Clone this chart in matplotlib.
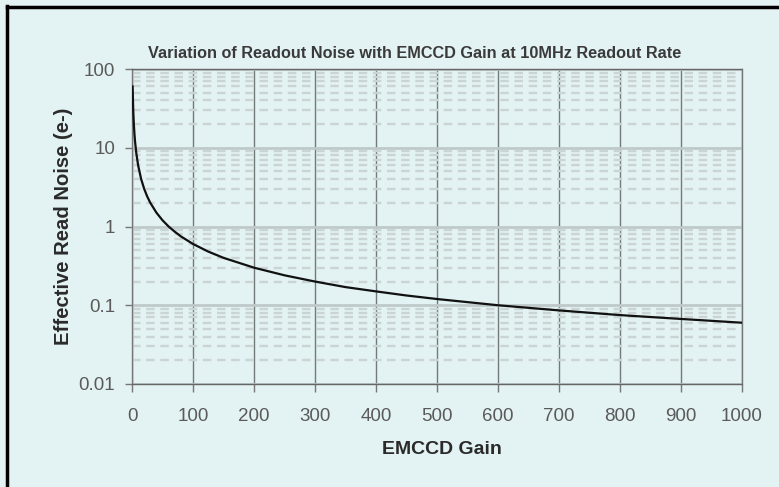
import matplotlib
matplotlib.use("Agg")
import matplotlib.pyplot as plt
from matplotlib.ticker import FixedLocator, NullFormatter

plt.rcParams['font.family'] = ['Liberation Sans', 'DejaVu Sans']

# Values
gain = [1, 2, 3, 4, 5, 7, 10, 15, 20, 25, 30, 40, 50, 60, 70, 80, 100, 125, 150,
        200, 250, 300, 350, 400, 450, 500, 600, 700, 800, 900, 1000]
noise = [60, 30, 20, 15, 12, 8.6, 6.0, 4.0, 3.0, 2.4, 2.0, 1.5, 1.2, 1.0, 0.86,
         0.75, 0.60, 0.48, 0.40, 0.30, 0.24, 0.20, 0.17, 0.15, 0.133, 0.12,
         0.10, 0.086, 0.075, 0.067, 0.060]
x_ticks = [0, 100, 200, 300, 400, 500, 600, 700, 800, 900, 1000]
y_ticks = [0.01, 0.1, 1, 10, 100]
y_tick_labels = ["0.01", "0.1", "1", "10", "100"]

bg = '#e3f2f2'
fig = plt.figure(figsize=(7.79, 4.87), dpi=100, facecolor=bg)
ax = fig.add_axes([132/779, 1-384/487, (742-132)/779, (384-69)/487])
ax.set_facecolor(bg)

ax.set_yscale('log')
ax.set_xlim(0, 1000)
ax.set_ylim(0.01, 100)

# minor horizontal dashed gridlines
minor = [m * 10.0**e for e in range(-2, 2) for m in range(2, 10)]
ax.yaxis.set_minor_locator(FixedLocator(minor))
ax.yaxis.set_minor_formatter(NullFormatter())
ax.grid(True, which='minor', axis='y', color='#cad4d4', linewidth=1.7,
        linestyle=(0, (3.6, 2.4)))
ax.grid(True, which='major', axis='y', color='#bfc9c9', linewidth=2.0)
ax.grid(True, which='major', axis='x', color='#727a7a', linewidth=1.0)

ax.plot(gain, noise, color='#111111', linewidth=1.6, zorder=5)

ax.set_xticks(x_ticks)
ax.set_xticklabels([str(v) for v in x_ticks])
ax.set_yticks(y_ticks)
ax.set_yticklabels(y_tick_labels)
ax.tick_params(axis='both', which='major', labelsize=13.5, labelcolor='#5a5a5a',
               color='#777777', width=1)
ax.tick_params(axis='x', pad=11, length=6)
ax.tick_params(axis='y', pad=7, length=5)
ax.tick_params(which='minor', length=0)

for s in ['top', 'bottom']:
    ax.spines[s].set_color('#666666')
    ax.spines[s].set_linestyle((0, (1, 1)))
    ax.spines[s].set_linewidth(1.0)
for s in ['left', 'right']:
    ax.spines[s].set_color('#777777')
    ax.spines[s].set_linewidth(1.0)

ax.set_title("Variation of Readout Noise with EMCCD Gain at 10MHz Readout Rate",
             fontsize=11.7, color='#3a3a3a', pad=8, fontweight='bold',
             x=(415-132)/610)
ax.set_xlabel("EMCCD Gain", fontsize=14, fontweight='bold', color='#2a2a2a')
ax.xaxis.set_label_coords((442-132)/610, -(57-0)/315)
ax.set_ylabel("Effective Read Noise (e-)", fontsize=14.6, fontweight='bold',
              color='#2a2a2a', labelpad=4)

# black frame at the top and left of the image
fig.add_artist(plt.Line2D([7/779, 7/779], [0, 1-6/487], transform=fig.transFigure,
                          color='black', linewidth=2.5))
fig.add_artist(plt.Line2D([7/779, 1], [1-7/487, 1-7/487], transform=fig.transFigure,
                          color='black', linewidth=2.5))

fig.savefig("out.png", dpi=100, facecolor=bg)
